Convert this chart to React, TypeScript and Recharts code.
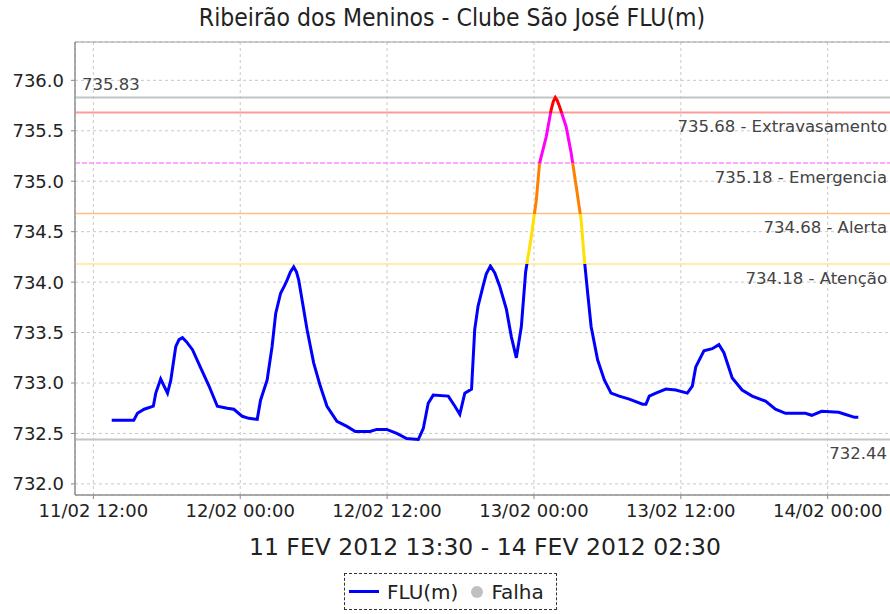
import React from "react";
import {
  LineChart,
  Line,
  XAxis,
  YAxis,
  CartesianGrid,
  ReferenceLine,
  ReferenceArea,
} from "recharts";

const title = "Ribeirão dos Meninos - Clube São José FLU(m)";
const periodLabel = "11 FEV 2012 13:30 - 14 FEV 2012 02:30";

// hours counted from 11/02/2012 00:00
const hours = [
  13.5, 15.3, 15.6, 16.15, 16.9, 17.1, 17.5, 18.06, 18.33, 18.73, 19.0, 19.28, 19.6, 20.1,
  20.77, 21.45, 22.13, 22.94, 23.48, 24.17, 24.7, 25.39, 25.66, 26.2, 26.6, 26.9, 27.3,
  27.6, 27.83, 28.1, 28.37, 28.6, 28.78, 29.46, 30.0, 30.54, 31.09, 31.9, 32.72, 33.4, 34.6,
  35.16, 35.97, 36.79, 37.6, 38.55, 38.96, 39.36, 39.77, 41.0, 41.54, 41.94, 42.35, 42.9,
  43.16, 43.43, 43.84, 44.1, 44.44, 44.8, 45.2, 45.75, 46.15, 46.56, 46.97, 47.32, 47.78,
  48.19, 48.46, 49.0, 49.41, 49.58, 49.74, 49.9, 50.09, 50.63, 51.04, 51.45, 51.85, 52.12,
  52.39, 52.67, 53.2, 53.75, 54.3, 54.97, 55.79, 56.87, 57.15, 57.42, 57.96, 58.78, 59.59,
  60.53, 60.94, 61.22, 61.89, 62.57, 63.11, 63.52, 64.2, 65.01, 65.83, 66.92, 67.73, 68.55,
  70.18, 70.7, 71.5, 72.9, 73.4, 74.2, 74.5,
];
const levels = [
  732.63, 732.63, 732.7, 732.74, 732.77, 732.9, 733.04, 732.9, 733.03, 733.36, 733.43,
  733.45, 733.41, 733.33, 733.15, 732.97, 732.77, 732.75, 732.74, 732.67, 732.65, 732.64,
  732.83, 733.03, 733.36, 733.69, 733.89, 733.96, 734.02, 734.1, 734.15, 734.1, 734.02,
  733.53, 733.2, 732.97, 732.77, 732.62, 732.57, 732.52, 732.52, 732.54, 732.54, 732.5,
  732.45, 732.44, 732.55, 732.8, 732.88, 732.87, 732.77, 732.69, 732.9, 732.94, 733.53,
  733.76, 733.96, 734.08, 734.16, 734.09, 733.96, 733.73, 733.46, 733.25, 733.56, 734.1,
  734.45, 734.81, 735.18, 735.44, 735.71, 735.79, 735.83, 735.8, 735.74, 735.54, 735.28,
  734.95, 734.62, 734.22, 733.89, 733.56, 733.23, 733.03, 732.9, 732.87, 732.84, 732.79,
  732.79, 732.87, 732.9, 732.94, 732.93, 732.9, 732.97, 733.16, 733.32, 733.34, 733.38,
  733.3, 733.05, 732.93, 732.87, 732.82, 732.74, 732.7, 732.7, 732.68, 732.72, 732.71,
  732.69, 732.66, 732.66,
];

const xTicks = [12, 24, 36, 48, 60, 72];
const xTickLabels = ["11/02 12:00", "12/02 00:00", "12/02 12:00", "13/02 00:00", "13/02 12:00", "14/02 00:00"];
const yTicks = [732, 732.5, 733, 733.5, 734, 734.5, 735, 735.5, 736];

const limitValues = [735.68, 735.18, 734.68, 734.18];
const limitNames = ["Extravasamento", "Emergencia", "Alerta", "Atenção"];

const limitLineColors = ["#ff9a9a", "#ff8cff", "#ffbf80", "#ffe88a"];
const limitSegColors = ["#ff0000", "#ff00ff", "#ff8000", "#ffe000"];
const baseColor = "#0000ff";

const data = hours.map((h, i) => ({ hour: h, level: levels[i] }));
const maxLevel = Math.max(...levels);
const minLevel = Math.min(...levels);
const frac = (v: number) => (maxLevel - v) / (maxLevel - minLevel);

const font = "'DejaVu Sans', sans-serif";

export default function App() {
  const stops: React.ReactNode[] = [];
  let prev = 0;
  limitValues.forEach((v, i) => {
    const f = frac(v);
    stops.push(<stop key={`a${i}`} offset={prev} stopColor={limitSegColors[i]} />);
    stops.push(<stop key={`b${i}`} offset={f} stopColor={limitSegColors[i]} />);
    prev = f;
  });
  stops.push(<stop key="c0" offset={prev} stopColor={baseColor} />);
  stops.push(<stop key="c1" offset={1} stopColor={baseColor} />);

  return (
    <div style={{ position: "relative", width: 890, height: 614, overflow: "hidden", background: "#fff", fontFamily: font }}>
      <style>{"body{margin:0}"}</style>
      <div
        style={{
          position: "absolute",
          top: 3,
          left: 0,
          width: 904,
          textAlign: "center",
          fontFamily: "'DejaVu Sans Condensed', 'DejaVu Sans', sans-serif",
          fontSize: 24.5,
          color: "#222",
        }}
      >
        {title}
      </div>
      <LineChart width={904} height={614} data={data} margin={{ top: 42, right: 9, bottom: 57, left: 0 }}>
        <defs>
          <linearGradient id="fluGrad" x1="0" y1="0" x2="0" y2="1">
            {stops}
          </linearGradient>
        </defs>
        <CartesianGrid strokeDasharray="3 3" stroke="#c8c8c8" />
        <ReferenceArea x1={10.5} x2={77.5} y1={731.89} y2={736.38} fill="none" stroke="#a0a0a0" />
        <XAxis
          dataKey="hour"
          type="number"
          domain={[10.5, 77.5]}
          ticks={xTicks}
          tickFormatter={(v: number) => xTickLabels[xTicks.indexOf(v)]}
          height={62}
          tickSize={4}
          tickMargin={5}
          axisLine={{ stroke: "#888" }}
          tickLine={{ stroke: "#888" }}
          tick={{ fill: "#222", fontSize: 18, fontFamily: font }}
          allowDataOverflow
          label={{ value: periodLabel, position: "insideBottom", offset: 2, fontSize: 23.5, fill: "#222", fontFamily: font }}
        />
        <YAxis
          type="number"
          domain={[731.89, 736.38]}
          ticks={yTicks}
          tickFormatter={(v: number) => v.toFixed(1)}
          width={75}
          tickSize={4}
          tickMargin={7}
          axisLine={{ stroke: "#888" }}
          tickLine={{ stroke: "#888" }}
          tick={{ fill: "#222", fontSize: 18, fontFamily: font }}
          allowDataOverflow
        />
        <ReferenceLine
          y={maxLevel}
          stroke="#c4c4c4"
          strokeWidth={2}
          label={{ value: maxLevel.toFixed(2), position: "insideBottomLeft", offset: 7, fontSize: 16.5, fill: "#444", fontFamily: font }}
        />
        <ReferenceLine
          y={minLevel}
          stroke="#c4c4c4"
          strokeWidth={2}
          label={{ value: minLevel.toFixed(2), position: "insideTopRight", offset: 8, fontSize: 16.5, fill: "#444", fontFamily: font }}
        />
        {limitValues.map((v, i) => (
          <ReferenceLine
            key={v}
            y={v}
            stroke={limitLineColors[i]}
            strokeWidth={i === 0 ? 2 : 1.5}
            strokeDasharray={i === 1 ? "5 2" : undefined}
            label={{
              value: `${v.toFixed(2)} - ${limitNames[i]}`,
              position: "insideTopRight",
              offset: 8,
              fontSize: 16.5,
              fill: "#444",
              fontFamily: font,
            }}
          />
        ))}
        <Line
          type="linear"
          dataKey="level"
          stroke="url(#fluGrad)"
          strokeWidth={3}
          dot={false}
          activeDot={false}
          isAnimationActive={false}
        />
      </LineChart>
      <div
        style={{
          position: "absolute",
          left: 344,
          top: 573,
          width: 213,
          height: 37,
          boxSizing: "border-box",
          border: "1px dashed #333",
          display: "flex",
          alignItems: "center",
          fontSize: 20,
          color: "#222",
        }}
      >
        <span style={{ display: "inline-block", width: 30, height: 3, background: baseColor, marginLeft: 4 }} />
        <span style={{ marginLeft: 8 }}>FLU(m)</span>
        <span style={{ display: "inline-block", width: 12, height: 12, borderRadius: 6, background: "#c0c0c0", marginLeft: 13 }} />
        <span style={{ marginLeft: 8 }}>Falha</span>
      </div>
    </div>
  );
}
